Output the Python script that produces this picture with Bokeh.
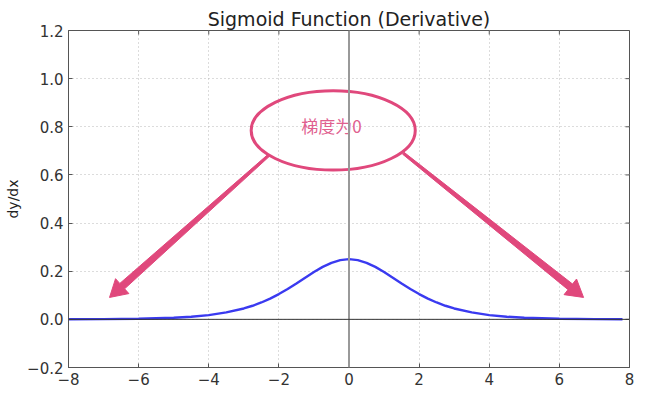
import numpy as np
from bokeh.plotting import figure
from bokeh.models import Span, Label, FixedTicker, Range1d
from bokeh.core.properties import value
from bokeh.embed import file_html
from bokeh.resources import INLINE

# curve values
xs = [-8, -7, -6, -5, -4.5, -4, -3.5, -3, -2.75, -2.5, -2.25, -2, -1.75, -1.5, -1.25, -1, -0.75, -0.5, -0.25,
      0, 0.25, 0.5, 0.75, 1, 1.25, 1.5, 1.75, 2, 2.25, 2.5, 2.75, 3, 3.5, 4, 4.5, 5, 6, 7, 7.8]
ys = [0.0003, 0.0009, 0.0025, 0.0066, 0.0109, 0.0177, 0.0290, 0.0452, 0.0565, 0.0701, 0.0862, 0.1050, 0.1261,
      0.1491, 0.1731, 0.1966, 0.2179, 0.2350, 0.2461,
      0.25, 0.2461, 0.2350, 0.2179, 0.1966, 0.1731, 0.1491, 0.1261, 0.1050, 0.0862, 0.0701, 0.0565, 0.0452,
      0.0290, 0.0177, 0.0109, 0.0066, 0.0025, 0.0009, 0.0004]

x_ticks = [-8, -6, -4, -2, 0, 2, 4, 6, 8]
x_tick_labels = ["\u22128", "\u22126", "\u22124", "\u22122", "0", "2", "4", "6", "8"]
y_ticks = [-0.2, 0.0, 0.2, 0.4, 0.6, 0.8, 1.0, 1.2]
y_tick_labels = ["\u22120.2", "0.0", "0.2", "0.4", "0.6", "0.8", "1.0", "1.2"]

title_text = "Sigmoid Function (Derivative)"
x_label = "x"
y_label = "dy/dx"

# annotation
note_text = "梯度为0"
note_pos = (-0.5, 0.806)
ellipse_center = (-0.45, 0.785)
ellipse_size = (4.68, 0.33)
arrow_starts = [(-2.3, 0.68), (1.55, 0.69)]
arrow_ends = [(-6.83, 0.091), (6.69, 0.091)]

PINK = "#e0487c"
AXC = "#555555"

W, H = 642, 389
ML, MR, MT, MB = 68, 13, 30, 22
FW, FH = W - ML - MR, H - MT - MB
X0, X1, Y0, Y1 = -8, 8, -0.2, 1.2
kx = FW / (X1 - X0)
ky = FH / (Y1 - Y0)

p = figure(width=W, height=H, x_range=Range1d(X0, X1), y_range=Range1d(Y0, Y1),
           output_backend="svg", toolbar_location=None,
           min_border_left=ML, min_border_right=MR, min_border_top=MT, min_border_bottom=MB,
           background_fill_color="white", border_fill_color="white")

p.title.text = title_text
p.title.align = "center"
p.title.text_font = "DejaVu Sans"
p.title.text_font_size = "19px"
p.title.text_font_style = "normal"
p.title.text_color = "#222222"
p.title.standoff = 2

def style_axis(ax, ticks, labels):
    ax.ticker = FixedTicker(ticks=ticks)
    ax.major_label_overrides = {t: l for t, l in zip(ticks, labels)}
    ax.major_tick_in = 4
    ax.major_tick_out = 0
    ax.minor_tick_line_color = None
    ax.axis_line_color = AXC
    ax.major_tick_line_color = AXC
    ax.major_label_text_font = "DejaVu Sans"
    ax.major_label_text_color = "#333333"
    ax.major_label_text_font_size = "15px"
    ax.major_label_standoff = 5

style_axis(p.xaxis[0], x_ticks, x_tick_labels)
style_axis(p.yaxis[0], y_ticks, y_tick_labels)
p.yaxis[0].axis_label = y_label
p.yaxis[0].axis_label_text_font = "DejaVu Sans"
p.yaxis[0].axis_label_text_font_size = "14px"
p.yaxis[0].axis_label_text_font_style = "normal"
p.yaxis[0].axis_label_text_color = "#222222"
p.yaxis[0].axis_label_standoff = 3

# inward ticks on top and right frame edges
p.segment(x0=x_ticks, y0=[Y1] * len(x_ticks), x1=x_ticks, y1=[Y1 - 4 / ky] * len(x_ticks),
          line_color=AXC, line_width=1)
p.segment(x0=[X1] * len(y_ticks), y0=y_ticks, x1=[X1 - 4 / kx] * len(y_ticks), y1=y_ticks,
          line_color=AXC, line_width=1)

p.xgrid.ticker = FixedTicker(ticks=x_ticks)
p.ygrid.ticker = FixedTicker(ticks=y_ticks)
for g in (p.xgrid[0], p.ygrid[0]):
    g.grid_line_color = "#b8b8b8"
    g.grid_line_dash = "1 3"
    g.grid_line_width = 1
p.outline_line_color = AXC

p.add_layout(Span(location=0, dimension="height", line_color="#999999", line_width=2))
p.add_layout(Span(location=0, dimension="width", line_color="#333333", line_width=1))

p.line(xs, ys, line_color="#3a3af0", line_width=2.4)

# ellipse
p.ellipse(x=[ellipse_center[0]], y=[ellipse_center[1]], width=[ellipse_size[0]], height=[ellipse_size[1]],
          fill_alpha=0, line_color=PINK, line_width=3)
p.text(x=[note_pos[0]], y=[note_pos[1]], text=[note_text], text_font=value("Noto Sans CJK SC"),
       text_font_size="17px", text_color="#e0608f", text_align="center", text_baseline="middle")

# tapered arrows (built in pixel space, mapped back to data)
for (sx, sy), (ex, ey) in zip(arrow_starts, arrow_ends):
    ax_, ay_ = sx * kx, sy * ky
    bx_, by_ = ex * kx, ey * ky
    d = np.array([bx_ - ax_, by_ - ay_])
    L = np.hypot(*d)
    u = d / L
    n = np.array([-u[1], u[0]])
    hl, hw, w0, w1 = 17.0, 10.0, 1.2, 3.6
    A = np.array([ax_, ay_])
    B = np.array([bx_, by_])
    base = B - u * hl
    pts = [A + n * w0, base + n * w1, base + n * hw, B, base - n * hw, base - n * w1, A - n * w0]
    px = [pt[0] / kx for pt in pts]
    py = [pt[1] / ky for pt in pts]
    p.patch(px, py, fill_color=PINK, line_color=PINK, line_width=1)

p.add_layout(Label(x=0, y=Y0 - 17 / ky, text=x_label, text_align="center", text_baseline="top",
                   text_font="DejaVu Sans", text_font_size="14px", text_color="#222222"))

open("out.html", "w").write(file_html(p, INLINE))
